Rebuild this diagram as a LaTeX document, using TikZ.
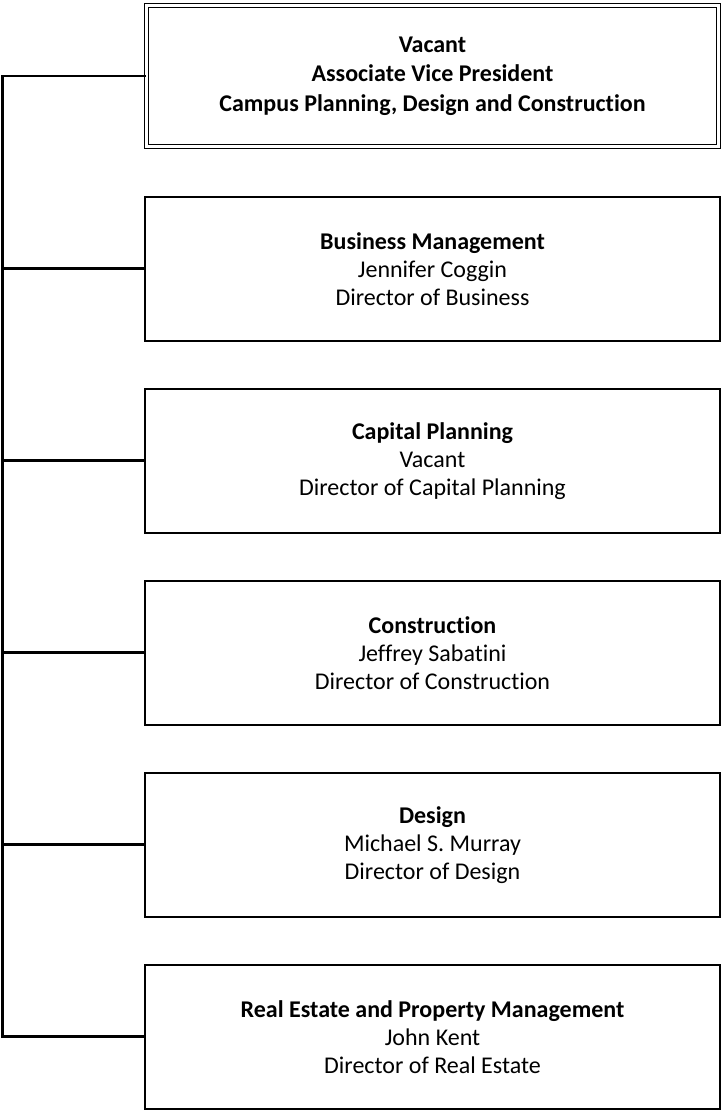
\documentclass[tikz,border=0pt]{standalone}
\usepackage{fontspec}
\setmainfont{Carlito}[Ligatures=NoCommon]
\usepackage{tikz}
\usetikzlibrary{positioning}

\begin{document}
\begin{tikzpicture}[
        x=0.75pt, y=0.75pt,
        node distance=144pt,
        unit/.style={draw, line width=1.6pt, minimum width=431pt, minimum height=108pt,
            align=center, inner sep=0pt, font=\fontsize{18}{21}\selectfont},
        head/.style={unit, line width=1.1pt, double, double distance=1.9pt,
            minimum width=429pt, minimum height=106pt, font=\fontsize{18}{22}\selectfont\bfseries},
        link/.style={line width=1.8pt}
    ]
    \useasboundingbox (0,0) rectangle (725,-1110);

    \node[head] (AVP) at (432.5,-76) {Vacant\\Associate Vice President\\Campus Planning, Design and Construction};
    \node[unit] (BM) [below of=AVP, yshift=-0.5pt] {\textbf{Business Management}\\Jennifer Coggin\\Director of Business};
    \node[unit] (CP) [below of=BM] {\textbf{Capital Planning}\\Vacant\\Director of Capital Planning};
    \node[unit] (CO) [below of=CP] {\textbf{Construction}\\Jeffrey Sabatini\\Director of Construction};
    \node[unit] (DE) [below of=CO] {\textbf{Design}\\Michael S. Murray\\Director of Design};
    \node[unit] (RE) [below of=DE] {\textbf{Real Estate and Property Management}\\John Kent\\Director of Real Estate};

    \coordinate (trunk) at (2.5,-75);

    % spine
    \draw[link] (AVP.west) -- (AVP.west -| trunk) -- (RE.west -| trunk) -- (RE.west);

    % branches
    \foreach \n in {BM,CP,CO,DE}
        \draw[link] (\n.west -| trunk) -- (\n.west);

\end{tikzpicture}
\end{document}
